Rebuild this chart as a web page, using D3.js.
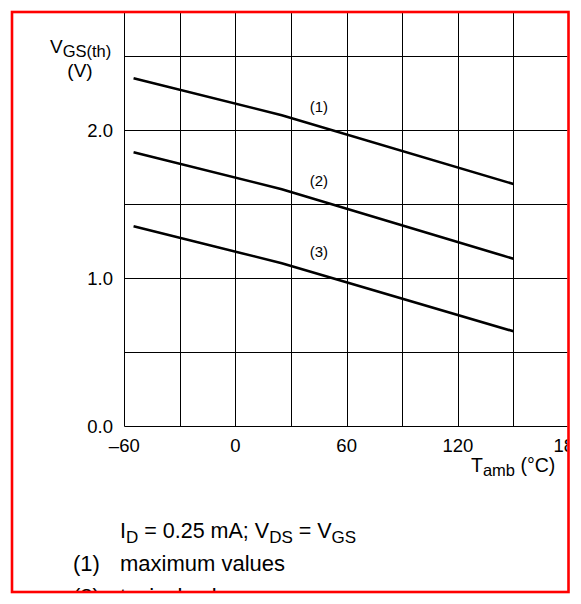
<!DOCTYPE html>
<html>
<head>
<meta charset="utf-8">
<script src="https://cdn.jsdelivr.net/npm/d3@7"></script>
<style>
  html, body { margin: 0; padding: 0; background: #fff; }
  text { font-family: "Liberation Sans", Arial, Helvetica, sans-serif; fill: #000; }
</style>
</head>
<body>
<div id="chart"></div>
<script>
// ---- data ----
const temps = [-55, 25, 150];                 // T_amb (°C)
const maxValues = [2.35, 2.10, 1.635];        // (1) maximum values
const typValues = [1.85, 1.60, 1.13];         // (2) typical values
const minValues = [1.35, 1.10, 0.64];         // (3) minimum values
const curveLabels = ["(1)", "(2)", "(3)"];
const labelTemp = 45;
const labelValues = [2.16, 1.66, 1.175];
const xTicks = [-60, 0, 60, 120, 180];
const xTickLabels = ["\u201360", "0", "60", "120", "180"];
const xGrid = [-60, -30, 0, 30, 60, 90, 120, 150, 180];
const yTicks = [0, 1, 2];
const yTickLabels = ["0.0", "1.0", "2.0"];
const yGrid = [0, 0.5, 1, 1.5, 2, 2.5];
const footnotes = [["(1)", "maximum values"], ["(2)", "typical values"], ["(3)", "minimum values"]];

const W = 581, H = 604;
const svg = d3.select("#chart").append("svg").attr("width", W).attr("height", H);

const x = d3.scaleLinear().domain([-60, 180]).range([124.3, 569]);
const y = d3.scaleLinear().domain([0, 2.5]).range([426, 56]);

// clip to the frame
const frame = {x: 12, y: 12, w: 556.5, h: 580};
svg.append("clipPath").attr("id", "frameClip")
  .append("rect").attr("x", frame.x + 1).attr("y", frame.y + 1)
  .attr("width", frame.w - 2).attr("height", frame.h - 2);

const g = svg.append("g").attr("clip-path", "url(#frameClip)");

// grid
const px = v => Math.round(v) + 0.5;
g.append("g").selectAll("line").data(xGrid).join("line")
  .attr("x1", d => px(x(d))).attr("x2", d => px(x(d)))
  .attr("y1", 0).attr("y2", px(y(0)))
  .attr("stroke", "#000").attr("stroke-width", 1);
g.append("g").selectAll("line").data(yGrid).join("line")
  .attr("x1", px(x(-60))).attr("x2", x(180))
  .attr("y1", d => px(y(d))).attr("y2", d => px(y(d)))
  .attr("stroke", "#000").attr("stroke-width", 1);

// curves
const line = d3.line().x((d, i) => x(temps[i])).y(d => y(d));
[maxValues, typValues, minValues].forEach(s => {
  g.append("path").attr("d", line(s)).attr("fill", "none")
    .attr("stroke", "#000").attr("stroke-width", 2.6);
});

// curve labels
g.append("g").selectAll("text").data(curveLabels).join("text")
  .attr("x", x(labelTemp)).attr("y", (d, i) => y(labelValues[i]))
  .attr("dy", "0.35em").attr("text-anchor", "middle")
  .attr("font-size", 15).text(d => d);

// y tick labels
g.append("g").selectAll("text").data(yTicks).join("text")
  .attr("x", 113).attr("y", d => y(d)).attr("dy", "0.36em")
  .attr("text-anchor", "end").attr("font-size", 18.5)
  .text((d, i) => yTickLabels[i]);

// x tick labels
g.append("g").selectAll("text").data(xTicks).join("text")
  .attr("x", d => x(d)).attr("y", 452)
  .attr("text-anchor", "middle").attr("font-size", 18.5)
  .text((d, i) => xTickLabels[i]);

// y axis title
const yt = g.append("text").attr("x", 50).attr("y", 53).attr("font-size", 19);
yt.append("tspan").text("V");
yt.append("tspan").attr("font-size", 16.5).attr("dy", 4).text("GS(th)");
g.append("text").attr("x", 80).attr("y", 77).attr("font-size", 19)
  .attr("text-anchor", "middle").text("(V)");

// x axis title
const xt = g.append("text").attr("x", 471).attr("y", 472).attr("font-size", 19.5);
xt.append("tspan").text("T");
xt.append("tspan").attr("font-size", 16.5).attr("dy", 4).text("amb");
xt.append("tspan").attr("dy", -4).text(" (\u00B0C)");

// footnotes
const f1 = g.append("text").attr("x", 120).attr("y", 538).attr("font-size", 21.5);
f1.append("tspan").text("I");
f1.append("tspan").attr("font-size", 17).attr("dy", 5).text("D");
f1.append("tspan").attr("dy", -5).text(" = 0.25 mA; V");
f1.append("tspan").attr("font-size", 17).attr("dy", 5).text("DS");
f1.append("tspan").attr("dy", -5).text(" = V");
f1.append("tspan").attr("font-size", 17).attr("dy", 5).text("GS");

footnotes.forEach((f, i) => {
  g.append("text").attr("x", 73).attr("y", 571 + i * 33).attr("font-size", 22).text(f[0]);
  g.append("text").attr("x", 120).attr("y", 571 + i * 33).attr("font-size", 22).text(f[1]);
});

// red frame
svg.append("rect").attr("x", frame.x).attr("y", frame.y)
  .attr("width", frame.w).attr("height", frame.h)
  .attr("fill", "none").attr("stroke", "#ff0000").attr("stroke-width", 2.6);
</script>
</body>
</html>
